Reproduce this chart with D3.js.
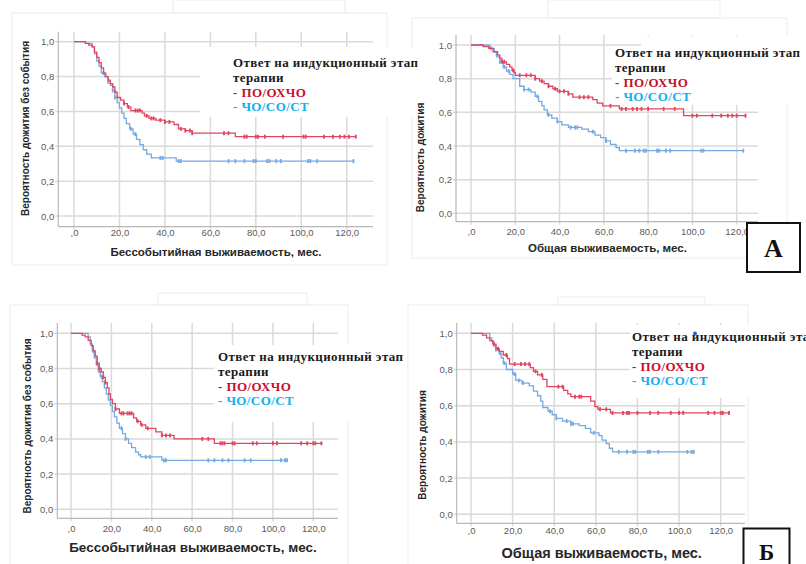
<!DOCTYPE html>
<html>
<head>
<meta charset="utf-8">
<script src="https://cdn.jsdelivr.net/npm/d3@7"></script>
<style>
  body { margin: 0; background: #fff; }
  svg { display: block; }
</style>
</head>
<body>
<svg id="chart" width="806" height="564"></svg>
<script>
// ticks and labels
const xTicks = [0, 20, 40, 60, 80, 100, 120];
const yTicks = [0, 0.2, 0.4, 0.6, 0.8, 1.0];
const legendHead = ["Ответ на индукционный этап", "терапии"];
const groupNames = ["- ПО/ОХЧО", "- ЧО/СО/СТ"];
const efsTitle = "Бессобытийная выживаемость, мес.";
const osTitle = "Общая выживаемость, мес.";
const efsYTitle = "Вероятность дожития без события";
const osYTitle = "Вероятность дожития";

// KM steps: [month, survival after the event]; censored months; last follow-up
// panel A, event-free survival
const aEfsRed = [[5,0.99],[6.5,0.98],[8,0.97],[9,0.94],[10,0.91],[11,0.88],[12,0.85],[13,0.82],[14,0.80],[15,0.78],[16,0.76],[17,0.74],[18,0.71],[19,0.68],[20.5,0.665],[22,0.645],[23.5,0.625],[25,0.605],[30,0.59],[31,0.575],[33,0.56],[36,0.55],[40,0.54],[44,0.525],[46,0.50],[49,0.49],[52,0.475],[71,0.455]];
const aEfsRedCens = [22,24,27,28,29,32,34,35,38,40,42,47,49,51,52,66,68,75,76,80,81,84,92,101,102,110,114,117,119,121,124];
const aEfsBlue = [[5,0.99],[8,0.97],[9,0.93],[10,0.89],[11,0.86],[12,0.82],[13.5,0.80],[15,0.77],[16,0.75],[17,0.72],[18,0.68],[19,0.65],[20,0.62],[21,0.59],[22,0.56],[23,0.53],[24.5,0.50],[26,0.47],[27.5,0.44],[29,0.41],[30.5,0.38],[32,0.355],[34,0.333],[45,0.315]];
const aEfsBlueCens = [13,15,17,18,25,27,38,39,46,47,68,71,75,79,80,85,86,89,91,103,104,107,123];
// panel A, overall survival
const aOsRed = [[5.5,0.99],[8,0.98],[10,0.96],[12,0.94],[13,0.92],[14,0.90],[16,0.885],[17.5,0.87],[18.5,0.85],[19.5,0.835],[20,0.82],[29,0.80],[31,0.785],[33,0.77],[35,0.755],[37,0.74],[39,0.725],[44,0.71],[46,0.69],[55,0.675],[57,0.655],[59.5,0.638],[67,0.62],[96,0.58]];
const aOsRedCens = [14,15,19,22,25,27,29,32,35,38,40,42,44,49,51,53,63,68,70,73,75,77,80,87,92,100,102,109,113,116,118,120,124];
const aOsBlue = [[8.5,0.98],[10.5,0.96],[11.5,0.93],[13,0.90],[14.5,0.87],[16,0.845],[17.5,0.825],[19,0.80],[22,0.755],[24,0.735],[27,0.72],[29,0.695],[30.5,0.665],[32,0.64],[33,0.615],[34.5,0.585],[36.5,0.565],[39,0.545],[41,0.525],[44,0.51],[50,0.50],[53,0.485],[56,0.465],[58.5,0.45],[61,0.43],[63,0.41],[65.5,0.39],[67,0.372]];
const aOsBlueCens = [9,13,15,17,24,26,30,35,39,45,47,48,55,61,70,74,76,78,79,84,85,88,90,104,105,123];
// panel Б, event-free survival
const bEfsRed = [[5.5,0.99],[7,0.98],[8.5,0.96],[10,0.93],[11,0.90],[12,0.87],[13,0.83],[14,0.80],[15,0.78],[16,0.75],[17,0.72],[18,0.69],[18.8,0.655],[19.5,0.625],[20.5,0.60],[22,0.57],[24,0.545],[31,0.52],[32.5,0.50],[34.5,0.48],[37,0.46],[42,0.44],[45,0.42],[51,0.40],[71,0.375]];
const bEfsRedCens = [13,14,16,17,22,25,26,28,29,30,33,35,38,45,47,49,65,68,74,75,76,80,81,90,92,100,102,114,117,120,121,124];
const bEfsBlue = [[8.5,0.98],[9.5,0.94],[10.5,0.90],[11.5,0.86],[12.5,0.82],[13.5,0.785],[14.5,0.755],[15.5,0.725],[16.5,0.69],[17.5,0.655],[18.5,0.62],[19.5,0.59],[20.5,0.555],[21.5,0.525],[22.7,0.49],[24,0.46],[25.5,0.43],[27,0.40],[28.5,0.375],[30,0.35],[32,0.325],[33.5,0.31],[34.5,0.298],[45,0.278]];
const bEfsBlueCens = [11,14,15,25,27,37,39,46,47,68,71,75,78,86,89,104,106,107];
// panel Б, overall survival
const bOsRed = [[5.5,0.99],[7.5,0.975],[9,0.96],[10.5,0.94],[12,0.915],[13.5,0.90],[15.5,0.88],[17.5,0.86],[18.5,0.83],[28.5,0.81],[30,0.79],[32,0.77],[34.5,0.745],[36.5,0.705],[44.5,0.685],[46.5,0.665],[48,0.65],[57.5,0.625],[59.5,0.595],[61,0.58],[67,0.56]];
const bOsRedCens = [11,13,17,21,24,26,28,31,34,42,44,50,52,53,62,65,68,73,75,76,80,86,90,96,100,102,114,117,120,121,124];
const bOsBlue = [[9,0.975],[10,0.955],[11,0.93],[12,0.91],[13.5,0.89],[14.5,0.865],[15.5,0.835],[17,0.80],[20,0.775],[21.5,0.74],[24.5,0.725],[28,0.71],[30,0.68],[32,0.655],[33.5,0.625],[34.5,0.59],[37,0.57],[39,0.55],[41,0.53],[44,0.515],[48,0.50],[52,0.49],[55,0.475],[57.5,0.45],[61.5,0.435],[63,0.41],[65,0.39],[66.5,0.365],[68,0.345]];
const bOsBlueCens = [12,14,16,21,23,25,38,41,46,48,49,59,71,75,78,79,85,86,90,104,106,107];

const RED = "#e2455f", BLUE = "#74a9e2";
const LEG_RED = "#c8102e", LEG_BLUE = "#12aef0";
const GRID = "#dadada";

const svg = d3.select("#chart");

// faint outlines of the pasted chart pictures
const outlines = svg.append("g").attr("id", "outlines")
  .attr("fill", "none").attr("stroke", "#ececec");
[[12,13,375,252],[173,0,172,13],[412,18,375,240],[548,0,172,18],
 [10,305,338,270],[158,293,149,12],[408,305,340,270],[558,297,147,8]]
  .forEach(r => outlines.append("rect").attr("x", r[0]).attr("y", r[1]).attr("width", r[2]).attr("height", r[3]));

const fmtX = d => d === 0 ? ",0" : d.toFixed(1).replace(".", ",");
const fmtY = d => d.toFixed(1).replace(".", ",");

function survAt(steps, t) {
  let s = 1;
  for (const [tt, ss] of steps) if (tt <= t) s = ss;
  return s;
}

function panel(o) {
  const g = svg.append("g");
  const x = d3.scaleLinear().domain([0, 120]).range([o.x0, o.x120]);
  const y = d3.scaleLinear().domain([0, 1]).range([o.y0, o.y1]);

  // grid
  g.append("g").selectAll("line").data(xTicks).join("line")
    .attr("x1", x).attr("x2", x).attr("y1", o.top).attr("y2", o.bottom + 3)
    .attr("stroke", GRID).attr("stroke-width", 1.5);
  g.append("g").selectAll("line").data(yTicks).join("line")
    .attr("x1", o.left - 3).attr("x2", o.right).attr("y1", y).attr("y2", y)
    .attr("stroke", GRID).attr("stroke-width", 1.5);

  // axis lines
  g.append("line").attr("x1", o.left).attr("x2", o.left).attr("y1", o.top).attr("y2", o.bottom)
    .attr("stroke", "#b8b8b8").attr("stroke-width", 1.2);
  g.append("line").attr("x1", o.left).attr("x2", o.right).attr("y1", o.bottom).attr("y2", o.bottom)
    .attr("stroke", "#b8b8b8").attr("stroke-width", 1.2);

  // tick labels
  const ax = g.append("g").attr("transform", `translate(0,${o.bottom})`)
    .call(d3.axisBottom(x).tickValues(xTicks).tickFormat(fmtX).tickSize(0).tickPadding(o.xPad));
  const ay = g.append("g").attr("transform", `translate(${o.left},0)`)
    .call(d3.axisLeft(y).tickValues(yTicks).tickFormat(fmtY).tickSize(0).tickPadding(4));
  [ax, ay].forEach(a => {
    a.select(".domain").remove();
    a.selectAll("text").attr("fill", "#5a5a5a").style("font-family", "Liberation Sans, Arial, sans-serif").style("font-size", "9.5px");
  });

  // legend background box(es)
  o.boxes.forEach(b => g.append("rect").attr("x", b[0]).attr("y", b[1]).attr("width", b[2]).attr("height", b[3]).attr("fill", "#fff"));

  // curves
  const line = d3.line().x(d => x(d[0])).y(d => y(d[1])).curve(d3.curveStepAfter);
  o.series.forEach(s => {
    const pts = [[0, 1], ...s.steps, [s.end, s.steps[s.steps.length - 1][1]]];
    g.append("path").datum(pts).attr("d", line)
      .attr("fill", "none").attr("stroke", s.color).attr("stroke-width", 1.3);
    g.append("g").selectAll("line").data(s.cens).join("line")
      .attr("x1", d => x(d)).attr("x2", d => x(d))
      .attr("y1", d => y(survAt(s.steps, d)) - 2).attr("y2", d => y(survAt(s.steps, d)) + 2)
      .attr("stroke", s.color).attr("stroke-width", 1.8);
  });

  // axis titles
  g.append("text").attr("x", o.xt[0]).attr("y", o.xt[1]).attr("text-anchor", "middle")
    .attr("fill", "#262626").style("font-family", "Liberation Sans, Arial, sans-serif")
    .style("font-weight", "bold").style("font-size", o.xt[2] + "px").text(o.xTitle);
  g.append("text").attr("transform", `translate(${o.yt[0]},${o.yt[1]}) rotate(-90)`)
    .attr("text-anchor", "middle").attr("fill", "#262626")
    .style("font-family", "Liberation Sans, Arial, sans-serif")
    .style("font-weight", "bold").style("font-size", "10px").text(o.yTitle);
  return g;
}

function legend(lx, ly) {
  const lg = svg.append("g").style("font-family", "Liberation Serif, 'Times New Roman', serif")
    .style("font-weight", "bold").style("font-size", "13px");
  const rows = [[legendHead[0], "#1a1a1a"], [legendHead[1], "#1a1a1a"], [groupNames[0], LEG_RED], [groupNames[1], LEG_BLUE]];
  lg.selectAll("text").data(rows).join("text")
    .attr("x", lx).attr("y", (d, i) => ly + i * 14.8)
    .attr("fill", d => d[1]).attr("letter-spacing", "0.4px").text(d => d[0]);
}

panel({
  left: 58.3, right: 373, top: 31.7, bottom: 226.7,
  x0: 74, x120: 346.7, y0: 216, y1: 41.7, xPad: 2.5,
  boxes: [[200, 47, 226, 70]],
  series: [
    { steps: aEfsBlue, cens: aEfsBlueCens, end: 123, color: BLUE },
    { steps: aEfsRed, cens: aEfsRedCens, end: 124, color: RED }
  ],
  xTitle: efsTitle, xt: [216, 256, 11.5], yTitle: efsYTitle, yt: [28.5, 128.5]
});
legend(233, 67);

panel({
  left: 456, right: 758, top: 35, bottom: 221.7,
  x0: 471, x120: 736.7, y0: 213.3, y1: 45, xPad: 6.5,
  boxes: [[612, 48, 194, 57], [641, 36, 165, 12]],
  series: [
    { steps: aOsBlue, cens: aOsBlueCens, end: 123, color: BLUE },
    { steps: aOsRed, cens: aOsRedCens, end: 124, color: RED }
  ],
  xTitle: osTitle, xt: [607.5, 252, 11.5], yTitle: osYTitle, yt: [423.5, 157.5]
});
legend(615, 57);

panel({
  left: 57.3, right: 338, top: 323, bottom: 518.3,
  x0: 71, x120: 313.3, y0: 509.3, y1: 333.3, xPad: 6.5,
  boxes: [[214, 345, 186, 77]],
  series: [
    { steps: bEfsBlue, cens: bEfsBlueCens, end: 107, color: BLUE },
    { steps: bEfsRed, cens: bEfsRedCens, end: 124.5, color: RED }
  ],
  xTitle: efsTitle, xt: [193, 552, 13.5], yTitle: efsYTitle, yt: [30.5, 426]
});
legend(218, 361);

panel({
  left: 456.7, right: 745, top: 323, bottom: 523.3,
  x0: 471, x120: 720.7, y0: 514.3, y1: 333.3, xPad: 3.5,
  boxes: [[630, 325, 168, 73]],
  series: [
    { steps: bOsBlue, cens: bOsBlueCens, end: 107.5, color: BLUE },
    { steps: bOsRed, cens: bOsRedCens, end: 124.5, color: RED }
  ],
  xTitle: osTitle, xt: [601.7, 558, 14.5], yTitle: osYTitle, yt: [426, 445]
});
legend(632, 341);

// stray blue dot on the bottom-right legend
svg.append("circle").attr("cx", 695).attr("cy", 333.5).attr("r", 2).attr("fill", "#2a63c4");

// panel letters
const letters = [["А", 747, 223, 53, 49, 26, 773.5, 257], ["Б", 743.5, 528.5, 46, 40, 23, 766.5, 560]];
letters.forEach(l => {
  svg.append("rect").attr("x", l[1]).attr("y", l[2]).attr("width", l[3]).attr("height", l[4])
    .attr("fill", "#fff").attr("stroke", "#111").attr("stroke-width", 2);
  svg.append("text").attr("x", l[6]).attr("y", l[7]).attr("text-anchor", "middle")
    .style("font-family", "Liberation Serif, 'Times New Roman', serif").style("font-weight", "bold")
    .style("font-size", l[5] + "px").attr("fill", "#111").text(l[0]);
});
</script>
</body>
</html>
